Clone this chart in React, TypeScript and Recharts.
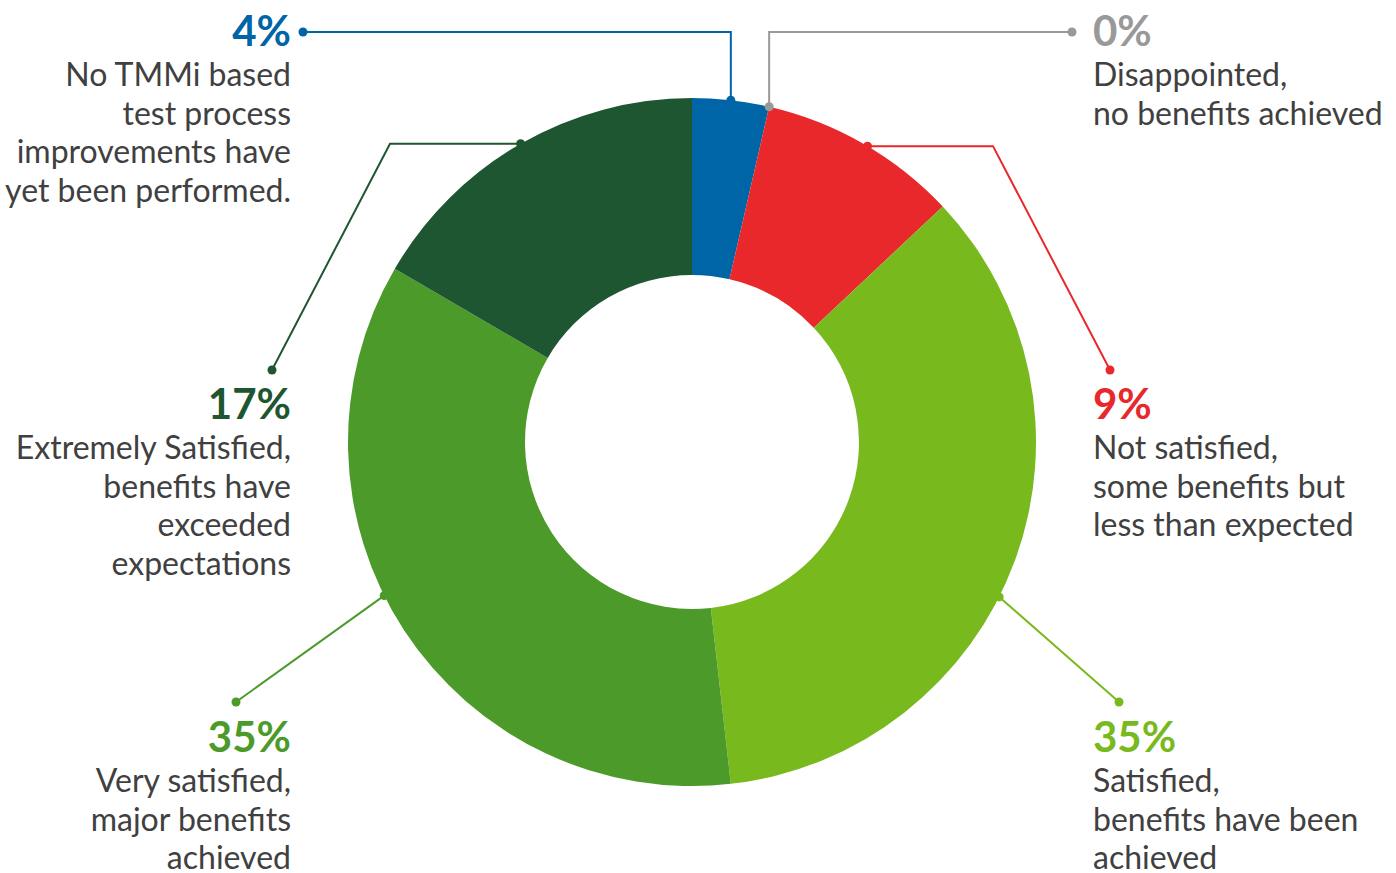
import React from 'react';
import { PieChart, Pie, Cell } from 'recharts';

const CATEGORIES = [
  'No TMMi based test process improvements have yet been performed.',
  'Disappointed, no benefits achieved',
  'Not satisfied, some benefits but less than expected',
  'Satisfied, benefits have been achieved',
  'Very satisfied, major benefits achieved',
  'Extremely Satisfied, benefits have exceeded expectations',
];
const VALUES = [3.6, 0, 9.4, 35.2, 35.2, 16.6];
const LABEL_LINES = [
  ['No TMMi based', 'test process', 'improvements have', 'yet been performed.'],
  ['Disappointed,', 'no benefits achieved'],
  ['Not satisfied,', 'some benefits but', 'less than expected'],
  ['Satisfied,', 'benefits have been', 'achieved'],
  ['Very satisfied,', 'major benefits', 'achieved'],
  ['Extremely Satisfied,', 'benefits have', 'exceeded', 'expectations'],
];
const COLORS = ['#0065A6', '#999999', '#E8282B', '#78BA1E', '#4C9A2A', '#1E5631'];

const data = CATEGORIES.map((name, i) => ({ name, value: VALUES[i] }));

// layout of annotation lines and text (positions only)
type Layout = {
  mode: 'vh' | 'hd' | 'd';
  elbow: number; // y for vh, x for hd
  end: [number, number];
  angleShift: number;
  side: 'left' | 'right';
  textX: number;
  pctY: number;
};
const LAYOUT: Layout[] = [
  { mode: 'vh', elbow: 32, end: [303, 32], angleShift: 0, side: 'left', textX: 291, pctY: 46 },
  { mode: 'vh', elbow: 32, end: [1072, 32], angleShift: 0, side: 'right', textX: 1093, pctY: 46 },
  { mode: 'hd', elbow: 993, end: [1110, 370], angleShift: -0.8, side: 'right', textX: 1093, pctY: 419 },
  { mode: 'd', elbow: 0, end: [1119, 702], angleShift: -6.6, side: 'right', textX: 1093, pctY: 752 },
  { mode: 'd', elbow: 0, end: [236, 702], angleShift: -6.6, side: 'left', textX: 291, pctY: 752 },
  { mode: 'hd', elbow: 390, end: [272, 370], angleShift: 0, side: 'left', textX: 291, pctY: 419 },
];

const RAD = Math.PI / 180;
const FONT = 'Lato, "Open Sans", sans-serif';

const renderLabel = (props: any) => {
  const { cx, cy, midAngle, outerRadius, index, value } = props;
  const lay = LAYOUT[index];
  const color = COLORS[index];
  const ang = (midAngle + lay.angleShift) * RAD;
  const sx = cx + outerRadius * Math.cos(-ang);
  const sy = cy + outerRadius * Math.sin(-ang);
  let pts: [number, number][] = [[sx, sy]];
  if (lay.mode === 'vh') pts.push([sx, lay.elbow]);
  if (lay.mode === 'hd') pts.push([lay.elbow, sy]);
  pts.push(lay.end);
  const anchor = lay.side === 'left' ? 'end' : 'start';
  const lines = LABEL_LINES[index];
  return (
    <g key={`lbl-${index}`}>
      <polyline
        points={pts.map((p) => p.join(',')).join(' ')}
        fill="none"
        stroke={color}
        strokeWidth={2}
      />
      <circle cx={sx} cy={sy} r={4.5} fill={color} />
      <circle cx={lay.end[0]} cy={lay.end[1]} r={4.5} fill={color} />
      <text
        x={lay.textX}
        y={lay.pctY}
        textAnchor={anchor}
        fontFamily={FONT}
        fontWeight={700}
        fontSize={42}
        fill={color}
      >
        {`${Math.round(value)}%`}
      </text>
      <text x={lay.textX} y={lay.pctY + 40} textAnchor={anchor} fontFamily={FONT} fontSize={32} fill="#404040">
        {lines.map((l, j) => (
          <tspan key={j} x={lay.textX} dy={j === 0 ? 0 : 38.5}>
            {l}
          </tspan>
        ))}
      </text>
    </g>
  );
};

export default function App() {
  return (
    <div style={{ position: 'absolute', left: 0, top: 0, width: 1396, height: 873, background: '#fff' }}>
      <PieChart width={1396} height={873} margin={{ top: 0, right: 0, bottom: 0, left: 0 }}>
        <Pie
          data={data}
          dataKey="value"
          nameKey="name"
          cx={692}
          cy={442}
          outerRadius={344}
          innerRadius={167}
          startAngle={90}
          endAngle={-270}
          stroke="none"
          label={renderLabel}
          labelLine={false}
          isAnimationActive={false}
        >
          {data.map((d, i) => (
            <Cell
              key={d.name}
              fill={COLORS[i]}
              stroke={i === 1 ? COLORS[1] : 'none'}
              strokeWidth={i === 1 ? 3 : 0}
            />
          ))}
        </Pie>
      </PieChart>
    </div>
  );
}
